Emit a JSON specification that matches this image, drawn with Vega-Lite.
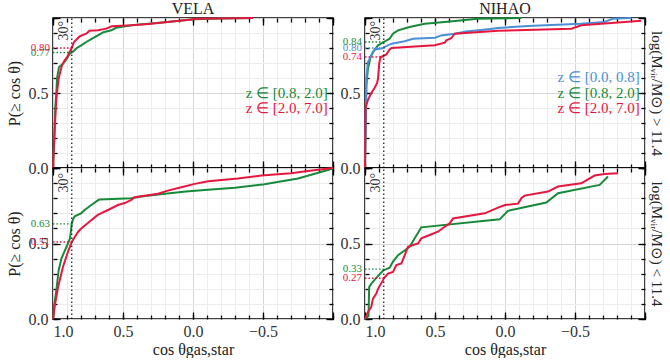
{
  "$schema": "https://vega.github.io/schema/vega-lite/v6.json",
  "padding": {"left": 5, "top": 0, "right": 0, "bottom": 0},
  "config": {
    "view": {"stroke": "black", "strokeWidth": 1.5},
    "font": "Liberation Serif",
    "axis": {"domain": false, "tickColor": "black", "tickWidth": 1.3, "labelFont": "Liberation Serif", "labelFontSize": 16, "labelColor": "#333", "titleFont": "Liberation Serif", "titleFontSize": 16, "titleFontWeight": "normal", "titleColor": "#222", "gridColor": "#ececec", "gridWidth": 1},
    "title": {"font": "Liberation Serif", "fontSize": 16, "fontWeight": "normal", "color": "#222", "offset": -3, "anchor": "middle", "frame": "group"}
  },
  "datasets": {
    "curves": [
      {"s":"VELA","m":"hi","z":"[0.8, 2.0]","c":1,"p":0},{"s":"VELA","m":"hi","z":"[0.8, 2.0]","c":0.99,"p":0.2},{"s":"VELA","m":"hi","z":"[0.8, 2.0]","c":0.984,"p":0.4},{"s":"VELA","m":"hi","z":"[0.8, 2.0]","c":0.976,"p":0.507},{"s":"VELA","m":"hi","z":"[0.8, 2.0]","c":0.971,"p":0.6},{"s":"VELA","m":"hi","z":"[0.8, 2.0]","c":0.957,"p":0.673},{"s":"VELA","m":"hi","z":"[0.8, 2.0]","c":0.935,"p":0.69},{"s":"VELA","m":"hi","z":"[0.8, 2.0]","c":0.917,"p":0.707},{"s":"VELA","m":"hi","z":"[0.8, 2.0]","c":0.9,"p":0.73},{"s":"VELA","m":"hi","z":"[0.8, 2.0]","c":0.881,"p":0.762},{"s":"VELA","m":"hi","z":"[0.8, 2.0]","c":0.866,"p":0.77},{"s":"VELA","m":"hi","z":"[0.8, 2.0]","c":0.857,"p":0.775},{"s":"VELA","m":"hi","z":"[0.8, 2.0]","c":0.83,"p":0.8},{"s":"VELA","m":"hi","z":"[0.8, 2.0]","c":0.798,"p":0.818},{"s":"VELA","m":"hi","z":"[0.8, 2.0]","c":0.762,"p":0.84},{"s":"VELA","m":"hi","z":"[0.8, 2.0]","c":0.73,"p":0.858},{"s":"VELA","m":"hi","z":"[0.8, 2.0]","c":0.679,"p":0.884},{"s":"VELA","m":"hi","z":"[0.8, 2.0]","c":0.64,"p":0.905},{"s":"VELA","m":"hi","z":"[0.8, 2.0]","c":0.583,"p":0.918},{"s":"VELA","m":"hi","z":"[0.8, 2.0]","c":0.55,"p":0.935},{"s":"VELA","m":"hi","z":"[0.8, 2.0]","c":0.44,"p":0.951},{"s":"VELA","m":"hi","z":"[0.8, 2.0]","c":0.32,"p":0.962},{"s":"VELA","m":"hi","z":"[0.8, 2.0]","c":0.2,"p":0.972},{"s":"VELA","m":"hi","z":"[0.8, 2.0]","c":0.08,"p":0.984},{"s":"VELA","m":"hi","z":"[0.8, 2.0]","c":-0.012,"p":0.991},{"s":"VELA","m":"hi","z":"[0.8, 2.0]","c":-0.2,"p":0.996},{"s":"VELA","m":"hi","z":"[0.8, 2.0]","c":-0.43,"p":1.0},
      {"s":"VELA","m":"hi","z":"[2.0, 7.0]","c":1,"p":0},{"s":"VELA","m":"hi","z":"[2.0, 7.0]","c":0.988,"p":0.26},{"s":"VELA","m":"hi","z":"[2.0, 7.0]","c":0.976,"p":0.46},{"s":"VELA","m":"hi","z":"[2.0, 7.0]","c":0.96,"p":0.595},{"s":"VELA","m":"hi","z":"[2.0, 7.0]","c":0.936,"p":0.685},{"s":"VELA","m":"hi","z":"[2.0, 7.0]","c":0.917,"p":0.718},{"s":"VELA","m":"hi","z":"[2.0, 7.0]","c":0.898,"p":0.74},{"s":"VELA","m":"hi","z":"[2.0, 7.0]","c":0.881,"p":0.775},{"s":"VELA","m":"hi","z":"[2.0, 7.0]","c":0.866,"p":0.8},{"s":"VELA","m":"hi","z":"[2.0, 7.0]","c":0.85,"p":0.84},{"s":"VELA","m":"hi","z":"[2.0, 7.0]","c":0.81,"p":0.877},{"s":"VELA","m":"hi","z":"[2.0, 7.0]","c":0.76,"p":0.897},{"s":"VELA","m":"hi","z":"[2.0, 7.0]","c":0.74,"p":0.915},{"s":"VELA","m":"hi","z":"[2.0, 7.0]","c":0.679,"p":0.918},{"s":"VELA","m":"hi","z":"[2.0, 7.0]","c":0.62,"p":0.929},{"s":"VELA","m":"hi","z":"[2.0, 7.0]","c":0.58,"p":0.945},{"s":"VELA","m":"hi","z":"[2.0, 7.0]","c":0.44,"p":0.951},{"s":"VELA","m":"hi","z":"[2.0, 7.0]","c":0.32,"p":0.96},{"s":"VELA","m":"hi","z":"[2.0, 7.0]","c":0.13,"p":0.978},{"s":"VELA","m":"hi","z":"[2.0, 7.0]","c":-0.036,"p":0.995},{"s":"VELA","m":"hi","z":"[2.0, 7.0]","c":-0.43,"p":1.0},
      {"s":"NIHAO","m":"hi","z":"[0.8, 2.0]","c":1,"p":0},{"s":"NIHAO","m":"hi","z":"[0.8, 2.0]","c":0.995,"p":0.3},{"s":"NIHAO","m":"hi","z":"[0.8, 2.0]","c":0.99,"p":0.55},{"s":"NIHAO","m":"hi","z":"[0.8, 2.0]","c":0.979,"p":0.662},{"s":"NIHAO","m":"hi","z":"[0.8, 2.0]","c":0.96,"p":0.74},{"s":"NIHAO","m":"hi","z":"[0.8, 2.0]","c":0.943,"p":0.773},{"s":"NIHAO","m":"hi","z":"[0.8, 2.0]","c":0.907,"p":0.818},{"s":"NIHAO","m":"hi","z":"[0.8, 2.0]","c":0.866,"p":0.84},{"s":"NIHAO","m":"hi","z":"[0.8, 2.0]","c":0.824,"p":0.862},{"s":"NIHAO","m":"hi","z":"[0.8, 2.0]","c":0.8,"p":0.895},{"s":"NIHAO","m":"hi","z":"[0.8, 2.0]","c":0.764,"p":0.918},{"s":"NIHAO","m":"hi","z":"[0.8, 2.0]","c":0.681,"p":0.94},{"s":"NIHAO","m":"hi","z":"[0.8, 2.0]","c":0.574,"p":0.962},{"s":"NIHAO","m":"hi","z":"[0.8, 2.0]","c":0.431,"p":0.973},{"s":"NIHAO","m":"hi","z":"[0.8, 2.0]","c":0.193,"p":0.995},{"s":"NIHAO","m":"hi","z":"[0.8, 2.0]","c":-0.117,"p":1.0},
      {"s":"NIHAO","m":"hi","z":"[0.0, 0.8]","c":1,"p":0},{"s":"NIHAO","m":"hi","z":"[0.0, 0.8]","c":0.995,"p":0.35},{"s":"NIHAO","m":"hi","z":"[0.0, 0.8]","c":0.99,"p":0.6},{"s":"NIHAO","m":"hi","z":"[0.0, 0.8]","c":0.979,"p":0.707},{"s":"NIHAO","m":"hi","z":"[0.0, 0.8]","c":0.955,"p":0.75},{"s":"NIHAO","m":"hi","z":"[0.0, 0.8]","c":0.93,"p":0.79},{"s":"NIHAO","m":"hi","z":"[0.0, 0.8]","c":0.866,"p":0.8},{"s":"NIHAO","m":"hi","z":"[0.0, 0.8]","c":0.86,"p":0.807},{"s":"NIHAO","m":"hi","z":"[0.0, 0.8]","c":0.81,"p":0.829},{"s":"NIHAO","m":"hi","z":"[0.0, 0.8]","c":0.716,"p":0.845},{"s":"NIHAO","m":"hi","z":"[0.0, 0.8]","c":0.657,"p":0.862},{"s":"NIHAO","m":"hi","z":"[0.0, 0.8]","c":0.5,"p":0.869},{"s":"NIHAO","m":"hi","z":"[0.0, 0.8]","c":0.455,"p":0.884},{"s":"NIHAO","m":"hi","z":"[0.0, 0.8]","c":0.36,"p":0.895},{"s":"NIHAO","m":"hi","z":"[0.0, 0.8]","c":0.28,"p":0.91},{"s":"NIHAO","m":"hi","z":"[0.0, 0.8]","c":0.12,"p":0.925},{"s":"NIHAO","m":"hi","z":"[0.0, 0.8]","c":0.05,"p":0.933},{"s":"NIHAO","m":"hi","z":"[0.0, 0.8]","c":-0.164,"p":0.947},{"s":"NIHAO","m":"hi","z":"[0.0, 0.8]","c":-0.54,"p":0.962},{"s":"NIHAO","m":"hi","z":"[0.0, 0.8]","c":-0.71,"p":0.973},{"s":"NIHAO","m":"hi","z":"[0.0, 0.8]","c":-0.77,"p":0.995},{"s":"NIHAO","m":"hi","z":"[0.0, 0.8]","c":-0.9,"p":1.0},
      {"s":"NIHAO","m":"hi","z":"[2.0, 7.0]","c":1,"p":0},{"s":"NIHAO","m":"hi","z":"[2.0, 7.0]","c":0.996,"p":0.4},{"s":"NIHAO","m":"hi","z":"[2.0, 7.0]","c":0.979,"p":0.455},{"s":"NIHAO","m":"hi","z":"[2.0, 7.0]","c":0.955,"p":0.5},{"s":"NIHAO","m":"hi","z":"[2.0, 7.0]","c":0.931,"p":0.535},{"s":"NIHAO","m":"hi","z":"[2.0, 7.0]","c":0.914,"p":0.565},{"s":"NIHAO","m":"hi","z":"[2.0, 7.0]","c":0.907,"p":0.595},{"s":"NIHAO","m":"hi","z":"[2.0, 7.0]","c":0.898,"p":0.7},{"s":"NIHAO","m":"hi","z":"[2.0, 7.0]","c":0.888,"p":0.74},{"s":"NIHAO","m":"hi","z":"[2.0, 7.0]","c":0.866,"p":0.748},{"s":"NIHAO","m":"hi","z":"[2.0, 7.0]","c":0.848,"p":0.757},{"s":"NIHAO","m":"hi","z":"[2.0, 7.0]","c":0.824,"p":0.79},{"s":"NIHAO","m":"hi","z":"[2.0, 7.0]","c":0.81,"p":0.8},{"s":"NIHAO","m":"hi","z":"[2.0, 7.0]","c":0.502,"p":0.818},{"s":"NIHAO","m":"hi","z":"[2.0, 7.0]","c":0.43,"p":0.836},{"s":"NIHAO","m":"hi","z":"[2.0, 7.0]","c":0.419,"p":0.851},{"s":"NIHAO","m":"hi","z":"[2.0, 7.0]","c":0.384,"p":0.865},{"s":"NIHAO","m":"hi","z":"[2.0, 7.0]","c":0.359,"p":0.895},{"s":"NIHAO","m":"hi","z":"[2.0, 7.0]","c":0.05,"p":0.915},{"s":"NIHAO","m":"hi","z":"[2.0, 7.0]","c":-0.474,"p":0.929},{"s":"NIHAO","m":"hi","z":"[2.0, 7.0]","c":-0.545,"p":0.951},{"s":"NIHAO","m":"hi","z":"[2.0, 7.0]","c":-0.974,"p":0.982},
      {"s":"VELA","m":"lo","z":"[0.8, 2.0]","c":1,"p":0},{"s":"VELA","m":"lo","z":"[0.8, 2.0]","c":0.99,"p":0.1},{"s":"VELA","m":"lo","z":"[0.8, 2.0]","c":0.976,"p":0.19},{"s":"VELA","m":"lo","z":"[0.8, 2.0]","c":0.96,"p":0.32},{"s":"VELA","m":"lo","z":"[0.8, 2.0]","c":0.94,"p":0.4},{"s":"VELA","m":"lo","z":"[0.8, 2.0]","c":0.917,"p":0.45},{"s":"VELA","m":"lo","z":"[0.8, 2.0]","c":0.893,"p":0.5},{"s":"VELA","m":"lo","z":"[0.8, 2.0]","c":0.88,"p":0.53},{"s":"VELA","m":"lo","z":"[0.8, 2.0]","c":0.874,"p":0.567},{"s":"VELA","m":"lo","z":"[0.8, 2.0]","c":0.866,"p":0.63},{"s":"VELA","m":"lo","z":"[0.8, 2.0]","c":0.857,"p":0.66},{"s":"VELA","m":"lo","z":"[0.8, 2.0]","c":0.845,"p":0.68},{"s":"VELA","m":"lo","z":"[0.8, 2.0]","c":0.8,"p":0.7},{"s":"VELA","m":"lo","z":"[0.8, 2.0]","c":0.774,"p":0.722},{"s":"VELA","m":"lo","z":"[0.8, 2.0]","c":0.726,"p":0.755},{"s":"VELA","m":"lo","z":"[0.8, 2.0]","c":0.68,"p":0.785},{"s":"VELA","m":"lo","z":"[0.8, 2.0]","c":0.667,"p":0.792},{"s":"VELA","m":"lo","z":"[0.8, 2.0]","c":0.44,"p":0.8},{"s":"VELA","m":"lo","z":"[0.8, 2.0]","c":0.37,"p":0.811},{"s":"VELA","m":"lo","z":"[0.8, 2.0]","c":0.2,"p":0.83},{"s":"VELA","m":"lo","z":"[0.8, 2.0]","c":0.05,"p":0.845},{"s":"VELA","m":"lo","z":"[0.8, 2.0]","c":-0.083,"p":0.855},{"s":"VELA","m":"lo","z":"[0.8, 2.0]","c":-0.3,"p":0.87},{"s":"VELA","m":"lo","z":"[0.8, 2.0]","c":-0.51,"p":0.893},{"s":"VELA","m":"lo","z":"[0.8, 2.0]","c":-0.75,"p":0.93},{"s":"VELA","m":"lo","z":"[0.8, 2.0]","c":-0.87,"p":0.962},{"s":"VELA","m":"lo","z":"[0.8, 2.0]","c":-1,"p":0.997},
      {"s":"VELA","m":"lo","z":"[2.0, 7.0]","c":1,"p":0},{"s":"VELA","m":"lo","z":"[2.0, 7.0]","c":0.985,"p":0.1},{"s":"VELA","m":"lo","z":"[2.0, 7.0]","c":0.964,"p":0.21},{"s":"VELA","m":"lo","z":"[2.0, 7.0]","c":0.929,"p":0.345},{"s":"VELA","m":"lo","z":"[2.0, 7.0]","c":0.893,"p":0.445},{"s":"VELA","m":"lo","z":"[2.0, 7.0]","c":0.866,"p":0.51},{"s":"VELA","m":"lo","z":"[2.0, 7.0]","c":0.84,"p":0.55},{"s":"VELA","m":"lo","z":"[2.0, 7.0]","c":0.82,"p":0.578},{"s":"VELA","m":"lo","z":"[2.0, 7.0]","c":0.798,"p":0.6},{"s":"VELA","m":"lo","z":"[2.0, 7.0]","c":0.74,"p":0.644},{"s":"VELA","m":"lo","z":"[2.0, 7.0]","c":0.68,"p":0.689},{"s":"VELA","m":"lo","z":"[2.0, 7.0]","c":0.607,"p":0.722},{"s":"VELA","m":"lo","z":"[2.0, 7.0]","c":0.536,"p":0.755},{"s":"VELA","m":"lo","z":"[2.0, 7.0]","c":0.488,"p":0.768},{"s":"VELA","m":"lo","z":"[2.0, 7.0]","c":0.44,"p":0.789},{"s":"VELA","m":"lo","z":"[2.0, 7.0]","c":0.417,"p":0.806},{"s":"VELA","m":"lo","z":"[2.0, 7.0]","c":0.25,"p":0.83},{"s":"VELA","m":"lo","z":"[2.0, 7.0]","c":0.18,"p":0.85},{"s":"VELA","m":"lo","z":"[2.0, 7.0]","c":0.083,"p":0.872},{"s":"VELA","m":"lo","z":"[2.0, 7.0]","c":-0.012,"p":0.895},{"s":"VELA","m":"lo","z":"[2.0, 7.0]","c":-0.11,"p":0.912},{"s":"VELA","m":"lo","z":"[2.0, 7.0]","c":-0.32,"p":0.93},{"s":"VELA","m":"lo","z":"[2.0, 7.0]","c":-0.49,"p":0.95},{"s":"VELA","m":"lo","z":"[2.0, 7.0]","c":-0.7,"p":0.965},{"s":"VELA","m":"lo","z":"[2.0, 7.0]","c":-0.82,"p":0.98},{"s":"VELA","m":"lo","z":"[2.0, 7.0]","c":-1,"p":1.0},
      {"s":"NIHAO","m":"lo","z":"[0.8, 2.0]","c":1,"p":0},{"s":"NIHAO","m":"lo","z":"[0.8, 2.0]","c":0.975,"p":0.02},{"s":"NIHAO","m":"lo","z":"[0.8, 2.0]","c":0.97,"p":0.213},{"s":"NIHAO","m":"lo","z":"[0.8, 2.0]","c":0.95,"p":0.24},{"s":"NIHAO","m":"lo","z":"[0.8, 2.0]","c":0.919,"p":0.272},{"s":"NIHAO","m":"lo","z":"[0.8, 2.0]","c":0.866,"p":0.325},{"s":"NIHAO","m":"lo","z":"[0.8, 2.0]","c":0.848,"p":0.33},{"s":"NIHAO","m":"lo","z":"[0.8, 2.0]","c":0.824,"p":0.34},{"s":"NIHAO","m":"lo","z":"[0.8, 2.0]","c":0.8,"p":0.38},{"s":"NIHAO","m":"lo","z":"[0.8, 2.0]","c":0.764,"p":0.423},{"s":"NIHAO","m":"lo","z":"[0.8, 2.0]","c":0.681,"p":0.478},{"s":"NIHAO","m":"lo","z":"[0.8, 2.0]","c":0.598,"p":0.607},{"s":"NIHAO","m":"lo","z":"[0.8, 2.0]","c":0.038,"p":0.66},{"s":"NIHAO","m":"lo","z":"[0.8, 2.0]","c":-0.021,"p":0.716},{"s":"NIHAO","m":"lo","z":"[0.8, 2.0]","c":-0.295,"p":0.771},{"s":"NIHAO","m":"lo","z":"[0.8, 2.0]","c":-0.379,"p":0.833},{"s":"NIHAO","m":"lo","z":"[0.8, 2.0]","c":-0.676,"p":0.888},{"s":"NIHAO","m":"lo","z":"[0.8, 2.0]","c":-0.736,"p":0.944},
      {"s":"NIHAO","m":"lo","z":"[2.0, 7.0]","c":1,"p":0},{"s":"NIHAO","m":"lo","z":"[2.0, 7.0]","c":0.979,"p":0.047},{"s":"NIHAO","m":"lo","z":"[2.0, 7.0]","c":0.955,"p":0.08},{"s":"NIHAO","m":"lo","z":"[2.0, 7.0]","c":0.943,"p":0.135},{"s":"NIHAO","m":"lo","z":"[2.0, 7.0]","c":0.919,"p":0.168},{"s":"NIHAO","m":"lo","z":"[2.0, 7.0]","c":0.907,"p":0.2},{"s":"NIHAO","m":"lo","z":"[2.0, 7.0]","c":0.871,"p":0.257},{"s":"NIHAO","m":"lo","z":"[2.0, 7.0]","c":0.866,"p":0.27},{"s":"NIHAO","m":"lo","z":"[2.0, 7.0]","c":0.836,"p":0.301},{"s":"NIHAO","m":"lo","z":"[2.0, 7.0]","c":0.8,"p":0.312},{"s":"NIHAO","m":"lo","z":"[2.0, 7.0]","c":0.776,"p":0.357},{"s":"NIHAO","m":"lo","z":"[2.0, 7.0]","c":0.74,"p":0.368},{"s":"NIHAO","m":"lo","z":"[2.0, 7.0]","c":0.716,"p":0.423},{"s":"NIHAO","m":"lo","z":"[2.0, 7.0]","c":0.693,"p":0.478},{"s":"NIHAO","m":"lo","z":"[2.0, 7.0]","c":0.657,"p":0.49},{"s":"NIHAO","m":"lo","z":"[2.0, 7.0]","c":0.621,"p":0.5},{"s":"NIHAO","m":"lo","z":"[2.0, 7.0]","c":0.598,"p":0.534},{"s":"NIHAO","m":"lo","z":"[2.0, 7.0]","c":0.538,"p":0.556},{"s":"NIHAO","m":"lo","z":"[2.0, 7.0]","c":0.479,"p":0.578},{"s":"NIHAO","m":"lo","z":"[2.0, 7.0]","c":0.431,"p":0.611},{"s":"NIHAO","m":"lo","z":"[2.0, 7.0]","c":0.395,"p":0.633},{"s":"NIHAO","m":"lo","z":"[2.0, 7.0]","c":0.371,"p":0.666},{"s":"NIHAO","m":"lo","z":"[2.0, 7.0]","c":0.145,"p":0.7},{"s":"NIHAO","m":"lo","z":"[2.0, 7.0]","c":0.05,"p":0.738},{"s":"NIHAO","m":"lo","z":"[2.0, 7.0]","c":0.0,"p":0.755},{"s":"NIHAO","m":"lo","z":"[2.0, 7.0]","c":-0.093,"p":0.764},{"s":"NIHAO","m":"lo","z":"[2.0, 7.0]","c":-0.117,"p":0.8},{"s":"NIHAO","m":"lo","z":"[2.0, 7.0]","c":-0.14,"p":0.817},{"s":"NIHAO","m":"lo","z":"[2.0, 7.0]","c":-0.307,"p":0.844},{"s":"NIHAO","m":"lo","z":"[2.0, 7.0]","c":-0.378,"p":0.877},{"s":"NIHAO","m":"lo","z":"[2.0, 7.0]","c":-0.545,"p":0.899},{"s":"NIHAO","m":"lo","z":"[2.0, 7.0]","c":-0.64,"p":0.95},{"s":"NIHAO","m":"lo","z":"[2.0, 7.0]","c":-0.71,"p":0.96},{"s":"NIHAO","m":"lo","z":"[2.0, 7.0]","c":-0.807,"p":0.966}
    ],
    "ann": [
      {"s":"VELA","m":"hi","z":"[0.8, 2.0]","p":0.77,"t":"0.77"},
      {"s":"VELA","m":"hi","z":"[2.0, 7.0]","p":0.80,"t":"0.80"},
      {"s":"NIHAO","m":"hi","z":"[0.0, 0.8]","p":0.80,"t":"0.80"},
      {"s":"NIHAO","m":"hi","z":"[0.8, 2.0]","p":0.84,"t":"0.84"},
      {"s":"NIHAO","m":"hi","z":"[2.0, 7.0]","p":0.74,"t":"0.74"},
      {"s":"VELA","m":"lo","z":"[0.8, 2.0]","p":0.63,"t":"0.63"},
      {"s":"VELA","m":"lo","z":"[2.0, 7.0]","p":0.51,"t":"0.51"},
      {"s":"NIHAO","m":"lo","z":"[0.8, 2.0]","p":0.33,"t":"0.33"},
      {"s":"NIHAO","m":"lo","z":"[2.0, 7.0]","p":0.27,"t":"0.27"}
    ]
  },
  "columns": 2,
  "spacing": {"row": 0, "column": 32},
  "bounds": "flush",
  "resolve": {"scale": {"color": "independent"}},
  "concat": [
    {
      "width": 280, "height": 150,
      "title": "VELA",
      "resolve": {"axis": {"x": "independent", "y": "independent"}},
      "layer": [
        {
          "data": {"name": "curves"},
          "transform": [{"filter": "datum.s == 'VELA' && datum.m == 'hi'"}],
          "mark": {"type": "line", "strokeWidth": 2},
          "encoding": {
            "x": {"field": "c", "type": "quantitative", "scale": {"domain": [1, -1], "nice": false, "zero": false},
                  "axis": {"orient": "bottom", "values": [1,0.9,0.8,0.7,0.6,0.5,0.4,0.3,0.2,0.1,0,-0.1,-0.2,-0.3,-0.4,-0.5,-0.6,-0.7,-0.8,-0.9,-1], "tickSize": -4, "labels": false, "grid": true, "gridColor": {"condition": {"test": "abs(datum.value*2 - round(datum.value*2)) < 0.001", "value": "#d6d6d6"}, "value": "#ececec"}, "title": null}},
            "y": {"field": "p", "type": "quantitative", "scale": {"domain": [0, 1], "nice": false, "zero": false},
                  "axis": {"orient": "left", "values": [0,0.1,0.2,0.3,0.4,0.5,0.6,0.7,0.8,0.9,1], "tickSize": -4, "labelPadding": 9, "labelFlush": false, "labelExpr": "datum.value < 0.01 || abs(datum.value - 0.5) < 0.01 ? format(datum.value, '.1f') : ''", "grid": true, "gridColor": {"condition": {"test": "abs(datum.value*2 - round(datum.value*2)) < 0.001", "value": "#d6d6d6"}, "value": "#ececec"}, "title": "P(≥ cos θ)", "titlePadding": 6}},
            "color": {"field": "z", "type": "nominal", "scale": {"domain": ["[0.8, 2.0]", "[2.0, 7.0]"], "range": ["#178a3a", "#e6173f"]}, "legend": null}
          }
        },
        {
          "data": {"values": [{}]},
          "mark": {"type": "rule", "strokeDash": [1.5, 2.5], "strokeWidth": 1.3, "color": "#222"},
          "encoding": {
            "x": {"datum": 0.866, "type": "quantitative", "axis": {"orient": "bottom", "values": [1,0.5,0,-0.5,-1], "tickSize": -7, "labels": false, "grid": false, "title": null}},
            "y": {"datum": 0, "type": "quantitative", "axis": {"orient": "left", "values": [0,0.5,1], "tickSize": -7, "labels": false, "grid": false, "title": null}},
            "y2": {"datum": 1}
          }
        },
        {
          "data": {"name": "ann"},
          "transform": [{"filter": "datum.s == 'VELA' && datum.m == 'hi'"}],
          "mark": {"type": "rule", "strokeDash": [1.5, 2], "strokeWidth": 1.3},
          "encoding": {
            "x": {"datum": 1.0, "type": "quantitative", "axis": {"orient": "top", "values": [1,0.9,0.8,0.7,0.6,0.5,0.4,0.3,0.2,0.1,0,-0.1,-0.2,-0.3,-0.4,-0.5,-0.6,-0.7,-0.8,-0.9,-1], "tickSize": -4, "labels": false, "grid": false, "title": null}},
            "x2": {"datum": 0.866},
            "y": {"field": "p", "type": "quantitative", "axis": {"orient": "right", "values": [0,0.1,0.2,0.3,0.4,0.5,0.6,0.7,0.8,0.9,1], "tickSize": -4, "labels": false, "grid": false, "title": null}},
            "color": {"field": "z", "type": "nominal", "legend": null}
          }
        },
        {
          "data": {"name": "ann"},
          "transform": [{"filter": "datum.s == 'VELA' && datum.m == 'hi'"}],
          "mark": {"type": "text", "align": "right", "baseline": "middle", "dx": -3, "fontSize": 11},
          "encoding": {
            "x": {"datum": 1.0, "type": "quantitative", "axis": {"orient": "top", "values": [1,0.5,0,-0.5,-1], "tickSize": -7, "labels": false, "grid": false, "title": null}},
            "y": {"field": "p", "type": "quantitative", "axis": {"orient": "right", "values": [0,0.5,1], "tickSize": -7, "labels": false, "grid": false, "title": null}},
            "text": {"field": "t"},
            "color": {"field": "z", "type": "nominal", "legend": null}
          }
        },
        {
          "data": {"values": [{}]},
          "mark": {"type": "text", "text": "30°", "angle": 270, "align": "right", "baseline": "bottom", "dx": -3, "dy": -1, "fontSize": 14, "color": "#333"},
          "encoding": {"x": {"datum": 0.866, "type": "quantitative", "axis": null}, "y": {"datum": 1, "type": "quantitative", "axis": null}}
        },
        {
          "data": {"values": [{}]},
          "mark": {"type": "text", "text": "z ∈ [0.8, 2.0]", "align": "right", "baseline": "middle", "fontSize": 15, "color": "#178a3a"},
          "encoding": {"x": {"datum": -0.963, "type": "quantitative", "axis": null}, "y": {"datum": 0.497, "type": "quantitative", "axis": null}}
        },
        {
          "data": {"values": [{}]},
          "mark": {"type": "text", "text": "z ∈ [2.0, 7.0]", "align": "right", "baseline": "middle", "fontSize": 15, "color": "#e6173f"},
          "encoding": {"x": {"datum": -0.963, "type": "quantitative", "axis": null}, "y": {"datum": 0.397, "type": "quantitative", "axis": null}}
        }
      ]
    },
    {
      "width": 280, "height": 150,
      "title": "NIHAO",
      "resolve": {"axis": {"x": "independent", "y": "independent"}},
      "layer": [
        {
          "data": {"name": "curves"},
          "transform": [{"filter": "datum.s == 'NIHAO' && datum.m == 'hi'"}],
          "mark": {"type": "line", "strokeWidth": 2},
          "encoding": {
            "x": {"field": "c", "type": "quantitative", "scale": {"domain": [1, -1], "nice": false, "zero": false},
                  "axis": {"orient": "bottom", "values": [1,0.9,0.8,0.7,0.6,0.5,0.4,0.3,0.2,0.1,0,-0.1,-0.2,-0.3,-0.4,-0.5,-0.6,-0.7,-0.8,-0.9,-1], "tickSize": -4, "labels": false, "grid": true, "gridColor": {"condition": {"test": "abs(datum.value*2 - round(datum.value*2)) < 0.001", "value": "#d6d6d6"}, "value": "#ececec"}, "title": null}},
            "y": {"field": "p", "type": "quantitative", "scale": {"domain": [0, 1], "nice": false, "zero": false},
                  "axis": {"orient": "left", "values": [0,0.1,0.2,0.3,0.4,0.5,0.6,0.7,0.8,0.9,1], "tickSize": -4, "labelPadding": 9, "labelFlush": false, "labelExpr": "datum.value < 0.01 || abs(datum.value - 0.5) < 0.01 ? format(datum.value, '.1f') : ''", "grid": true, "gridColor": {"condition": {"test": "abs(datum.value*2 - round(datum.value*2)) < 0.001", "value": "#d6d6d6"}, "value": "#ececec"}, "title": null}},
            "color": {"field": "z", "type": "nominal", "scale": {"domain": ["[0.0, 0.8]", "[0.8, 2.0]", "[2.0, 7.0]"], "range": ["#4a90d8", "#178a3a", "#e6173f"]}, "legend": null}
          }
        },
        {
          "data": {"values": [{}]},
          "mark": {"type": "rule", "strokeDash": [1.5, 2.5], "strokeWidth": 1.3, "color": "#222"},
          "encoding": {
            "x": {"datum": 0.866, "type": "quantitative", "axis": {"orient": "bottom", "values": [1,0.5,0,-0.5,-1], "tickSize": -7, "labels": false, "grid": false, "title": null}},
            "y": {"datum": 0, "type": "quantitative", "axis": {"orient": "left", "values": [0,0.5,1], "tickSize": -7, "labels": false, "grid": false, "title": null}},
            "y2": {"datum": 1}
          }
        },
        {
          "data": {"name": "ann"},
          "transform": [{"filter": "datum.s == 'NIHAO' && datum.m == 'hi'"}],
          "mark": {"type": "rule", "strokeDash": [1.5, 2], "strokeWidth": 1.3},
          "encoding": {
            "x": {"datum": 1.0, "type": "quantitative", "axis": {"orient": "top", "values": [1,0.9,0.8,0.7,0.6,0.5,0.4,0.3,0.2,0.1,0,-0.1,-0.2,-0.3,-0.4,-0.5,-0.6,-0.7,-0.8,-0.9,-1], "tickSize": -4, "labels": false, "grid": false, "title": null}},
            "x2": {"datum": 0.866},
            "y": {"field": "p", "type": "quantitative", "axis": {"orient": "right", "values": [0,0.1,0.2,0.3,0.4,0.5,0.6,0.7,0.8,0.9,1], "tickSize": -4, "labels": false, "grid": false, "title": "log(Mᵥᵢᵣ/M⊙) > 11.4", "titleFontSize": 15, "titlePadding": 3}},
            "color": {"field": "z", "type": "nominal", "legend": null}
          }
        },
        {
          "data": {"name": "ann"},
          "transform": [{"filter": "datum.s == 'NIHAO' && datum.m == 'hi'"}],
          "mark": {"type": "text", "align": "right", "baseline": "middle", "dx": -3, "fontSize": 11},
          "encoding": {
            "x": {"datum": 1.0, "type": "quantitative", "axis": {"orient": "top", "values": [1,0.5,0,-0.5,-1], "tickSize": -7, "labels": false, "grid": false, "title": null}},
            "y": {"field": "p", "type": "quantitative", "axis": {"orient": "right", "values": [0,0.5,1], "tickSize": -7, "labels": false, "grid": false, "title": null}},
            "text": {"field": "t"},
            "color": {"field": "z", "type": "nominal", "legend": null}
          }
        },
        {
          "data": {"values": [{}]},
          "mark": {"type": "text", "text": "30°", "angle": 270, "align": "right", "baseline": "bottom", "dx": -3, "dy": -1, "fontSize": 14, "color": "#333"},
          "encoding": {"x": {"datum": 0.866, "type": "quantitative", "axis": null}, "y": {"datum": 1, "type": "quantitative", "axis": null}}
        },
        {
          "data": {"values": [{}]},
          "mark": {"type": "text", "text": "z ∈ [0.0, 0.8]", "align": "right", "baseline": "middle", "fontSize": 15, "color": "#4a90d8"},
          "encoding": {"x": {"datum": -0.962, "type": "quantitative", "axis": null}, "y": {"datum": 0.607, "type": "quantitative", "axis": null}}
        },
        {
          "data": {"values": [{}]},
          "mark": {"type": "text", "text": "z ∈ [0.8, 2.0]", "align": "right", "baseline": "middle", "fontSize": 15, "color": "#178a3a"},
          "encoding": {"x": {"datum": -0.962, "type": "quantitative", "axis": null}, "y": {"datum": 0.497, "type": "quantitative", "axis": null}}
        },
        {
          "data": {"values": [{}]},
          "mark": {"type": "text", "text": "z ∈ [2.0, 7.0]", "align": "right", "baseline": "middle", "fontSize": 15, "color": "#e6173f"},
          "encoding": {"x": {"datum": -0.962, "type": "quantitative", "axis": null}, "y": {"datum": 0.397, "type": "quantitative", "axis": null}}
        }
      ]
    },
    {
      "width": 280, "height": 151,
      "resolve": {"axis": {"x": "independent", "y": "independent"}},
      "layer": [
        {
          "data": {"name": "curves"},
          "transform": [{"filter": "datum.s == 'VELA' && datum.m == 'lo'"}],
          "mark": {"type": "line", "strokeWidth": 2},
          "encoding": {
            "x": {"field": "c", "type": "quantitative", "scale": {"domain": [1, -1], "nice": false, "zero": false},
                  "axis": {"orient": "bottom", "values": [1,0.9,0.8,0.7,0.6,0.5,0.4,0.3,0.2,0.1,0,-0.1,-0.2,-0.3,-0.4,-0.5,-0.6,-0.7,-0.8,-0.9,-1], "tickSize": -4, "labelPadding": 8, "labelFlush": true, "labelExpr": "abs(datum.value*2 - round(datum.value*2)) < 0.001 && datum.value > -0.99 ? format(datum.value, '.1f') : ''", "grid": true, "gridColor": {"condition": {"test": "abs(datum.value*2 - round(datum.value*2)) < 0.001", "value": "#d6d6d6"}, "value": "#ececec"}, "title": "cos θgas,star", "titlePadding": 2}},
            "y": {"field": "p", "type": "quantitative", "scale": {"domain": [0, 1], "nice": false, "zero": false},
                  "axis": {"orient": "left", "values": [0,0.1,0.2,0.3,0.4,0.5,0.6,0.7,0.8,0.9,1], "tickSize": -4, "labelPadding": 9, "labelFlush": false, "labelExpr": "datum.value < 0.01 || abs(datum.value - 0.5) < 0.01 ? format(datum.value, '.1f') : ''", "grid": true, "gridColor": {"condition": {"test": "abs(datum.value*2 - round(datum.value*2)) < 0.001", "value": "#d6d6d6"}, "value": "#ececec"}, "title": "P(≥ cos θ)", "titlePadding": 6}},
            "color": {"field": "z", "type": "nominal", "scale": {"domain": ["[0.8, 2.0]", "[2.0, 7.0]"], "range": ["#178a3a", "#e6173f"]}, "legend": null}
          }
        },
        {
          "data": {"values": [{}]},
          "mark": {"type": "rule", "strokeDash": [1.5, 2.5], "strokeWidth": 1.3, "color": "#222"},
          "encoding": {
            "x": {"datum": 0.866, "type": "quantitative", "axis": {"orient": "bottom", "values": [1,0.5,0,-0.5,-1], "tickSize": -7, "labels": false, "grid": false, "title": null}},
            "y": {"datum": 0, "type": "quantitative", "axis": {"orient": "left", "values": [0,0.5,1], "tickSize": -7, "labels": false, "grid": false, "title": null}},
            "y2": {"datum": 1}
          }
        },
        {
          "data": {"name": "ann"},
          "transform": [{"filter": "datum.s == 'VELA' && datum.m == 'lo'"}],
          "mark": {"type": "rule", "strokeDash": [1.5, 2], "strokeWidth": 1.3},
          "encoding": {
            "x": {"datum": 1.0, "type": "quantitative", "axis": {"orient": "top", "values": [1,0.9,0.8,0.7,0.6,0.5,0.4,0.3,0.2,0.1,0,-0.1,-0.2,-0.3,-0.4,-0.5,-0.6,-0.7,-0.8,-0.9,-1], "tickSize": -4, "labels": false, "grid": false, "title": null}},
            "x2": {"datum": 0.866},
            "y": {"field": "p", "type": "quantitative", "axis": {"orient": "right", "values": [0,0.1,0.2,0.3,0.4,0.5,0.6,0.7,0.8,0.9,1], "tickSize": -4, "labels": false, "grid": false, "title": null}},
            "color": {"field": "z", "type": "nominal", "legend": null}
          }
        },
        {
          "data": {"name": "ann"},
          "transform": [{"filter": "datum.s == 'VELA' && datum.m == 'lo'"}],
          "mark": {"type": "text", "align": "right", "baseline": "middle", "dx": -3, "fontSize": 11},
          "encoding": {
            "x": {"datum": 1.0, "type": "quantitative", "axis": {"orient": "top", "values": [1,0.5,0,-0.5,-1], "tickSize": -7, "labels": false, "grid": false, "title": null}},
            "y": {"field": "p", "type": "quantitative", "axis": {"orient": "right", "values": [0,0.5,1], "tickSize": -7, "labels": false, "grid": false, "title": null}},
            "text": {"field": "t"},
            "color": {"field": "z", "type": "nominal", "legend": null}
          }
        },
        {
          "data": {"values": [{}]},
          "mark": {"type": "text", "text": "30°", "angle": 270, "align": "right", "baseline": "bottom", "dx": -5, "dy": -1, "fontSize": 14, "color": "#333"},
          "encoding": {"x": {"datum": 0.866, "type": "quantitative", "axis": null}, "y": {"datum": 1, "type": "quantitative", "axis": null}}
        }
      ]
    },
    {
      "width": 280, "height": 151,
      "resolve": {"axis": {"x": "independent", "y": "independent"}},
      "layer": [
        {
          "data": {"name": "curves"},
          "transform": [{"filter": "datum.s == 'NIHAO' && datum.m == 'lo'"}],
          "mark": {"type": "line", "strokeWidth": 2},
          "encoding": {
            "x": {"field": "c", "type": "quantitative", "scale": {"domain": [1, -1], "nice": false, "zero": false},
                  "axis": {"orient": "bottom", "values": [1,0.9,0.8,0.7,0.6,0.5,0.4,0.3,0.2,0.1,0,-0.1,-0.2,-0.3,-0.4,-0.5,-0.6,-0.7,-0.8,-0.9,-1], "tickSize": -4, "labelPadding": 8, "labelFlush": true, "labelExpr": "abs(datum.value*2 - round(datum.value*2)) < 0.001 && datum.value > -0.99 ? format(datum.value, '.1f') : ''", "grid": true, "gridColor": {"condition": {"test": "abs(datum.value*2 - round(datum.value*2)) < 0.001", "value": "#d6d6d6"}, "value": "#ececec"}, "title": "cos θgas,star", "titlePadding": 2}},
            "y": {"field": "p", "type": "quantitative", "scale": {"domain": [0, 1], "nice": false, "zero": false},
                  "axis": {"orient": "left", "values": [0,0.1,0.2,0.3,0.4,0.5,0.6,0.7,0.8,0.9,1], "tickSize": -4, "labelPadding": 9, "labelFlush": false, "labelExpr": "datum.value < 0.01 || abs(datum.value - 0.5) < 0.01 ? format(datum.value, '.1f') : ''", "grid": true, "gridColor": {"condition": {"test": "abs(datum.value*2 - round(datum.value*2)) < 0.001", "value": "#d6d6d6"}, "value": "#ececec"}, "title": null}},
            "color": {"field": "z", "type": "nominal", "scale": {"domain": ["[0.8, 2.0]", "[2.0, 7.0]"], "range": ["#178a3a", "#e6173f"]}, "legend": null}
          }
        },
        {
          "data": {"values": [{}]},
          "mark": {"type": "rule", "strokeDash": [1.5, 2.5], "strokeWidth": 1.3, "color": "#222"},
          "encoding": {
            "x": {"datum": 0.866, "type": "quantitative", "axis": {"orient": "bottom", "values": [1,0.5,0,-0.5,-1], "tickSize": -7, "labels": false, "grid": false, "title": null}},
            "y": {"datum": 0, "type": "quantitative", "axis": {"orient": "left", "values": [0,0.5,1], "tickSize": -7, "labels": false, "grid": false, "title": null}},
            "y2": {"datum": 1}
          }
        },
        {
          "data": {"name": "ann"},
          "transform": [{"filter": "datum.s == 'NIHAO' && datum.m == 'lo'"}],
          "mark": {"type": "rule", "strokeDash": [1.5, 2], "strokeWidth": 1.3},
          "encoding": {
            "x": {"datum": 1.0, "type": "quantitative", "axis": {"orient": "top", "values": [1,0.9,0.8,0.7,0.6,0.5,0.4,0.3,0.2,0.1,0,-0.1,-0.2,-0.3,-0.4,-0.5,-0.6,-0.7,-0.8,-0.9,-1], "tickSize": -4, "labels": false, "grid": false, "title": null}},
            "x2": {"datum": 0.866},
            "y": {"field": "p", "type": "quantitative", "axis": {"orient": "right", "values": [0,0.1,0.2,0.3,0.4,0.5,0.6,0.7,0.8,0.9,1], "tickSize": -4, "labels": false, "grid": false, "title": "log(Mᵥᵢᵣ/M⊙) < 11.4", "titleFontSize": 15, "titlePadding": 3}},
            "color": {"field": "z", "type": "nominal", "legend": null}
          }
        },
        {
          "data": {"name": "ann"},
          "transform": [{"filter": "datum.s == 'NIHAO' && datum.m == 'lo'"}],
          "mark": {"type": "text", "align": "right", "baseline": "middle", "dx": -3, "fontSize": 11},
          "encoding": {
            "x": {"datum": 1.0, "type": "quantitative", "axis": {"orient": "top", "values": [1,0.5,0,-0.5,-1], "tickSize": -7, "labels": false, "grid": false, "title": null}},
            "y": {"field": "p", "type": "quantitative", "axis": {"orient": "right", "values": [0,0.5,1], "tickSize": -7, "labels": false, "grid": false, "title": null}},
            "text": {"field": "t"},
            "color": {"field": "z", "type": "nominal", "legend": null}
          }
        },
        {
          "data": {"values": [{}]},
          "mark": {"type": "text", "text": "30°", "angle": 270, "align": "right", "baseline": "bottom", "dx": -5, "dy": -1, "fontSize": 14, "color": "#333"},
          "encoding": {"x": {"datum": 0.866, "type": "quantitative", "axis": null}, "y": {"datum": 1, "type": "quantitative", "axis": null}}
        }
      ]
    }
  ]
}
